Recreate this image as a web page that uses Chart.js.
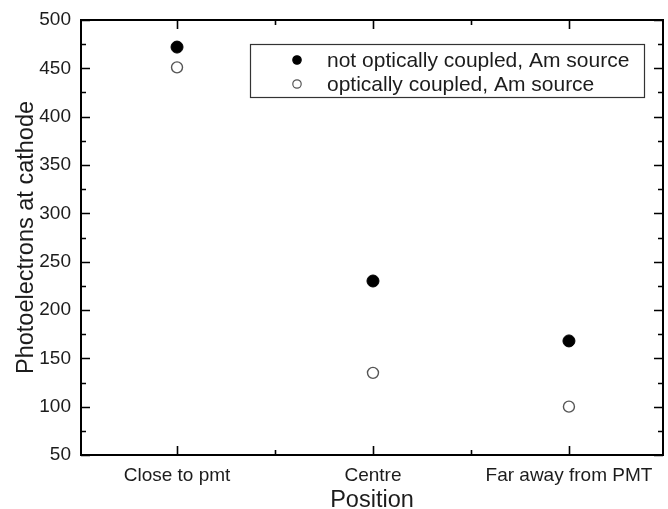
<!DOCTYPE html>
<html>
<head>
<meta charset="utf-8">
<script src="https://cdn.jsdelivr.net/npm/chart.js@4/dist/chart.umd.min.js"></script>
<style>
  html, body { margin: 0; padding: 0; background: #fff; overflow: hidden; }
  #wrap { width: 668px; height: 509px; overflow: hidden; }
</style>
</head>
<body>
<div id="wrap"><canvas id="c" width="670" height="509"></canvas></div>
<script>
// Source positions along the detector
const positions = ['Close to pmt', 'Centre', 'Far away from PMT'];
// Photoelectrons at the cathode for each position
const notCoupled = [472, 230, 168];
const coupled = [451, 135, 100];
// Series names
const seriesNames = ['not optically coupled, Am source', 'optically coupled, Am source'];
// Value axis range and label step
const yMin = 50, yMax = 500, yStep = 50;

const FONT = '"Liberation Sans", Arial, Helvetica, sans-serif';
const INK = '#1c1c1c';

// Inward tick marks on all four sides plus the closing frame, and the boxed legend
const framePlugin = {
  id: 'frame',
  afterDraw(chart) {
    const { ctx, chartArea: a } = chart;
    const xs = chart.scales.x, ys = chart.scales.y;
    ctx.save();
    ctx.strokeStyle = '#000';
    ctx.lineWidth = 2;
    ctx.beginPath();
    ctx.moveTo(a.left, a.top); ctx.lineTo(a.right, a.top); ctx.lineTo(a.right, a.bottom);
    ctx.stroke();

    ctx.lineWidth = 1.6;
    ctx.beginPath();
    // value axis: major every step, minor halfway
    for (let v = yMin; v <= yMax + 1e-9; v += yStep / 2) {
      const major = Math.abs((v - yMin) % yStep) < 1e-9;
      const len = major ? 9 : 5;
      const py = Math.round(ys.getPixelForValue(v)) + 0.5;
      ctx.moveTo(a.left, py); ctx.lineTo(a.left + len, py);
      ctx.moveTo(a.right, py); ctx.lineTo(a.right - len, py);
    }
    // category axis: major at each position, minor between them
    for (let i = 0; i < positions.length; i++) {
      for (const [v, len] of [[i, 9], [i + 0.5, 5]]) {
        if (v > positions.length - 1) continue;
        const px = Math.round(xs.getPixelForValue(v)) + 0.5;
        ctx.moveTo(px, a.bottom); ctx.lineTo(px, a.bottom - len);
        ctx.moveTo(px, a.top); ctx.lineTo(px, a.top + len);
      }
    }
    ctx.stroke();

    // legend box
    const bx = 250, by = 44, bw = 394, bh = 53;
    ctx.lineWidth = 1.2;
    ctx.strokeStyle = '#333';
    ctx.strokeRect(bx + 0.5, by + 0.5, bw, bh);
    ctx.font = '21px ' + FONT;
    ctx.fillStyle = INK;
    ctx.textBaseline = 'middle';
    chart.data.datasets.forEach((ds, i) => {
      const cy = by + 16 + i * 24;
      ctx.beginPath();
      ctx.arc(297, cy, 4.2, 0, Math.PI * 2);
      ctx.fillStyle = ds.backgroundColor;
      ctx.fill();
      ctx.strokeStyle = ds.borderColor;
      ctx.lineWidth = 1.2;
      ctx.stroke();
      ctx.fillStyle = INK;
      ctx.fillText(ds.label, 327, cy + 1);
    });
    ctx.restore();
  }
};

new Chart(document.getElementById('c'), {
  type: 'scatter',
  data: {
    datasets: [
      {
        label: seriesNames[0],
        data: positions.map((_, i) => ({ x: i, y: notCoupled[i] })),
        pointRadius: 6,
        backgroundColor: '#000',
        borderColor: '#000',
        borderWidth: 1
      },
      {
        label: seriesNames[1],
        data: positions.map((_, i) => ({ x: i, y: coupled[i] })),
        pointRadius: 5.5,
        backgroundColor: '#fff',
        borderColor: '#555',
        borderWidth: 1.4
      }
    ]
  },
  options: {
    responsive: false,
    animation: false,
    devicePixelRatio: 1,
    layout: { padding: { left: 0, top: 20, right: 3, bottom: 0 } },
    plugins: { legend: { display: false }, tooltip: { enabled: false } },
    scales: {
      x: {
        type: 'linear',
        min: -0.49,
        max: 2.48,
        afterBuildTicks: s => { s.ticks = positions.map((_, i) => ({ value: i })); },
        afterFit: s => { s.height = 54; s.paddingLeft = 0; s.paddingRight = 0; },
        grid: { display: false, drawTicks: false },
        border: { display: true, color: '#000', width: 2 },
        ticks: {
          autoSkip: false, maxRotation: 0, padding: 9,
          color: INK, font: { family: FONT, size: 19 },
          callback: v => positions[v]
        },
        title: { display: true, text: 'Position', color: INK, font: { family: FONT, size: 23.5 }, padding: { top: 0, bottom: -6 } }
      },
      y: {
        min: yMin,
        max: yMax,
        afterFit: s => { s.width = 81; s.paddingTop = 0; s.paddingBottom = 0; },
        grid: { display: false, drawTicks: false },
        border: { display: true, color: '#000', width: 2 },
        ticks: { stepSize: yStep, padding: 10, color: INK, font: { family: FONT, size: 19 } },
        title: { display: true, text: 'Photoelectrons at cathode', color: INK, font: { family: FONT, size: 23.5 }, padding: { top: 12, bottom: 0 } }
      }
    }
  },
  plugins: [framePlugin]
});
</script>
</body>
</html>
